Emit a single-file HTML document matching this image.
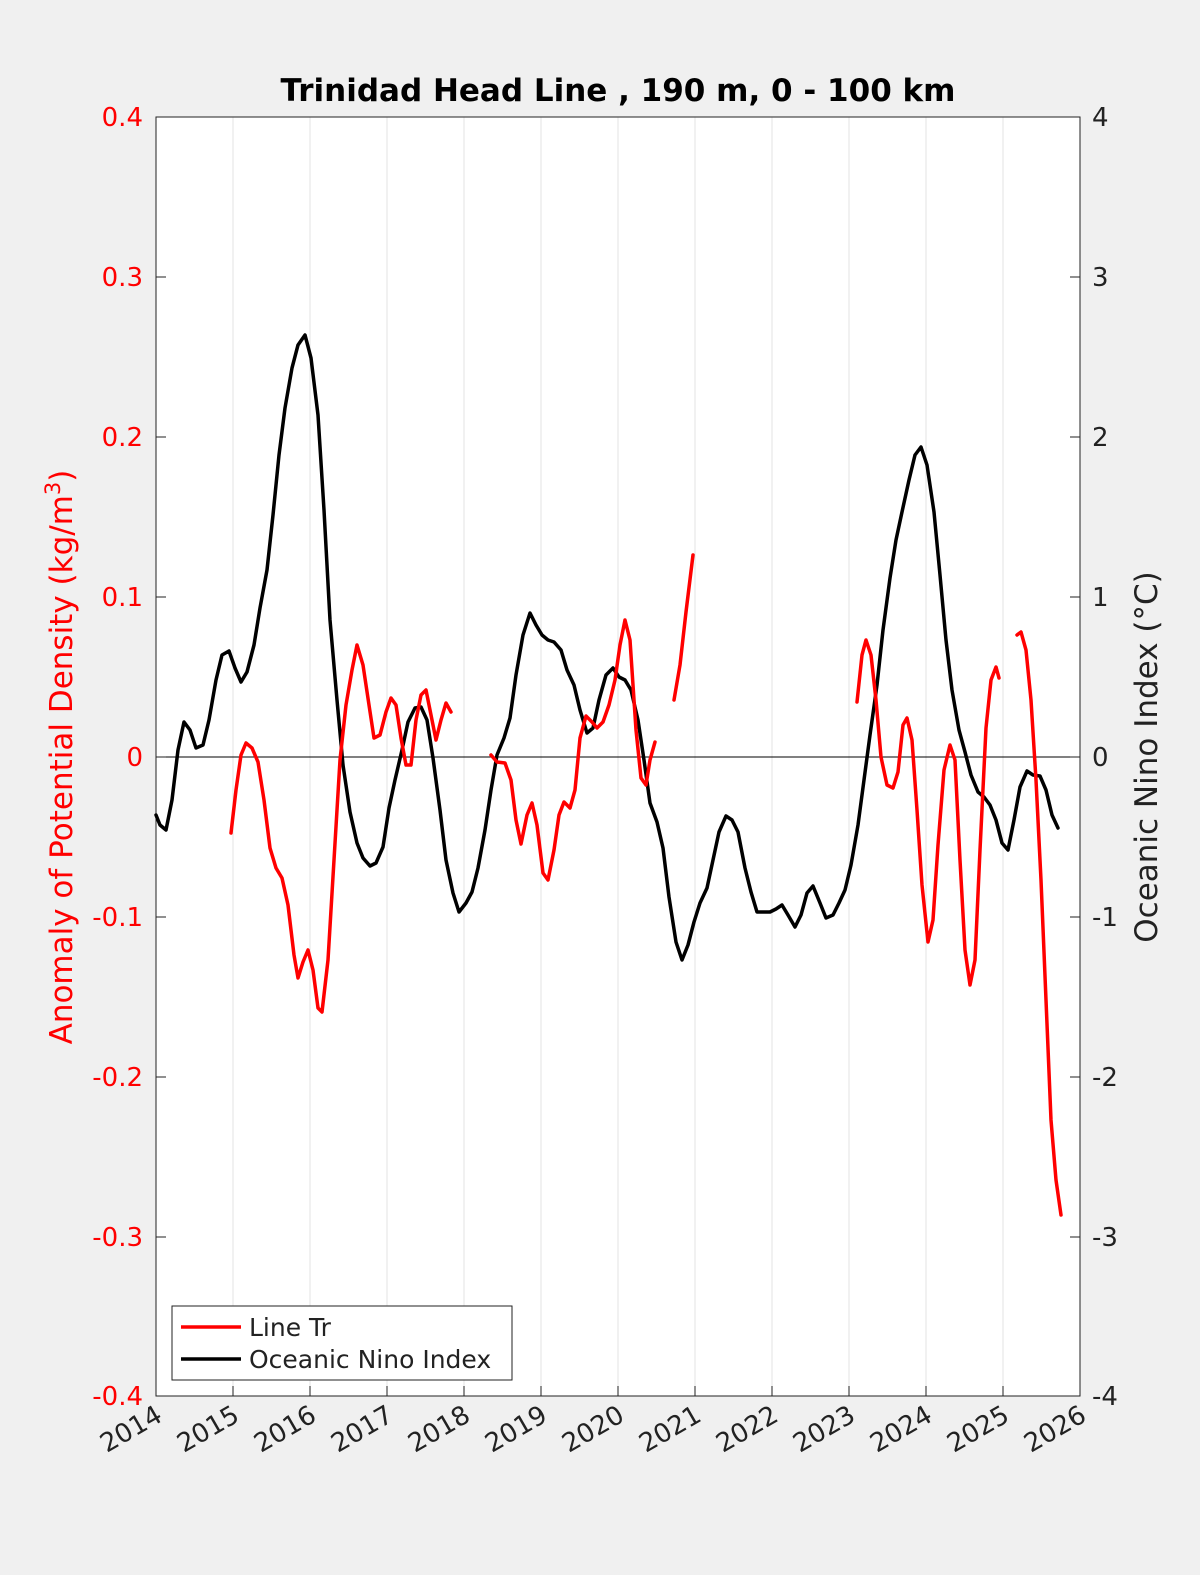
<!DOCTYPE html>
<html><head><meta charset="utf-8"><style>body{margin:0;background:#f0f0f0}svg{display:block}</style></head><body>
<svg width="1200" height="1575" xmlns="http://www.w3.org/2000/svg" font-family="'DejaVu Sans','Liberation Sans',sans-serif">
<rect width="1200" height="1575" fill="#f0f0f0"/>
<rect x="156" y="117" width="924" height="1279" fill="#fff"/>
<g stroke="#e3e3e3" stroke-width="1">
<line x1="233" y1="117" x2="233" y2="1396"/><line x1="310" y1="117" x2="310" y2="1396"/><line x1="387" y1="117" x2="387" y2="1396"/><line x1="464" y1="117" x2="464" y2="1396"/><line x1="541" y1="117" x2="541" y2="1396"/><line x1="618" y1="117" x2="618" y2="1396"/><line x1="695" y1="117" x2="695" y2="1396"/><line x1="772" y1="117" x2="772" y2="1396"/><line x1="849" y1="117" x2="849" y2="1396"/><line x1="926" y1="117" x2="926" y2="1396"/><line x1="1003" y1="117" x2="1003" y2="1396"/>
</g>
<line x1="156" y1="757" x2="1080" y2="757" stroke="#000" stroke-width="1"/>
<g stroke="#222" stroke-width="1">
<path d="M156,117H166M156,277H166M156,437H166M156,597H166M156,757H166M156,917H166M156,1077H166M156,1237H166M156,1396H166"/>
<path d="M1080,117H1070M1080,277H1070M1080,437H1070M1080,597H1070M1080,757H1070M1080,917H1070M1080,1077H1070M1080,1237H1070M1080,1396H1070"/>
<path d="M233,1396V1386M310,1396V1386M387,1396V1386M464,1396V1386M541,1396V1386M618,1396V1386M695,1396V1386M772,1396V1386M849,1396V1386M926,1396V1386M1003,1396V1386"/>
</g>
<rect x="156" y="117" width="924" height="1279" fill="none" stroke="#222" stroke-width="1"/>
<g fill="none" stroke-linejoin="round" stroke-linecap="round" stroke-width="3.5">
<polyline stroke="#000" points="156,815 160,825 166,830 172,800 178,750 184,722 190,730 196,748 203,745 209,720 216,680 222,655 229,651 235,668 241,682 247,672 254,645 260,608 267,570 273,515 279,455 285,408 292,368 298,345 305,335 311,358 318,415 324,510 330,620 337,700 343,765 350,812 357,843 363,858 370,866 376,863 383,847 389,808 395,780 402,750 408,722 415,708 421,707 427,720 433,758 440,810 446,860 453,893 459,912 466,903 472,892 478,868 485,830 491,790 497,755 504,738 510,718 516,675 523,635 530,613 536,625 542,635 548,640 554,642 561,650 567,670 574,685 580,710 587,733 593,728 599,700 606,675 613,668 619,677 625,680 631,690 638,720 644,760 650,803 657,822 663,848 669,897 676,942 682,960 688,945 694,922 700,903 707,888 713,860 719,832 726,816 732,820 738,832 745,868 751,892 757,912 763,912 770,912 776,909 782,905 788,915 795,927 801,915 807,893 813,886 820,903 826,918 833,915 839,903 845,890 851,865 858,825 864,780 870,735 877,685 883,630 890,578 896,540 902,512 909,480 915,455 921,447 927,465 934,512 940,575 946,640 952,690 959,730 965,752 971,775 978,792 984,797 990,805 996,820 1002,843 1008,850 1014,820 1020,787 1027,771 1033,775 1040,776 1046,790 1052,815 1058,828"/>
<g stroke="#f00">
<polyline points="231,833 236,790 241,755 246,743 252,748 258,762 264,800 270,848 276,868 282,878 288,905 294,955 298,978 303,962 308,950 313,970 318,1008 322,1012 328,960 334,860 340,760 346,705 352,670 357,645 363,665 369,705 374,738 380,735 386,712 391,698 396,705 401,738 406,765 411,765 416,720 421,695 426,690 431,715 436,740 441,720 446,703 451,712"/>
<polyline points="491,755 497,762 505,763 511,780 516,820 521,844 527,815 532,803 537,825 543,873 548,880 554,850 559,815 564,802 570,808 575,790 580,738 586,716 592,722 597,728 603,722 609,705 615,680 620,645 625,620 630,640 636,730 641,778 646,785 650,760 655,742"/>
<polyline points="674,700 680,665 686,612 693,555"/>
<polyline points="857,702 862,655 866,640 871,655 876,700 881,757 887,785 893,788 898,772 903,725 907,718 912,740 917,810 922,885 928,942 933,920 938,845 944,770 950,745 955,760 960,860 965,950 970,985 975,960 980,850 986,728 991,680 996,667 999,678"/>
<polyline points="1017,635 1021,632 1026,650 1031,700 1036,780 1041,880 1046,1000 1051,1120 1056,1180 1061,1215"/>
</g></g>
<text x="618" y="101" font-size="31" font-weight="bold" text-anchor="middle">Trinidad Head Line , 190 m, 0 - 100 km</text>
<g font-size="26" fill="#f00" text-anchor="end">
<text x="143" y="126">0.4</text><text x="143" y="286">0.3</text><text x="143" y="446">0.2</text><text x="143" y="606">0.1</text><text x="143" y="766">0</text><text x="143" y="926">-0.1</text><text x="143" y="1086">-0.2</text><text x="143" y="1246">-0.3</text><text x="143" y="1405">-0.4</text>
</g>
<g font-size="26" fill="#222">
<text x="1092" y="126">4</text><text x="1092" y="286">3</text><text x="1092" y="446">2</text><text x="1092" y="606">1</text><text x="1092" y="766">0</text><text x="1092" y="926">-1</text><text x="1092" y="1086">-2</text><text x="1092" y="1246">-3</text><text x="1092" y="1405">-4</text>
</g>
<g font-size="26" fill="#222" text-anchor="end">
<text transform="translate(164,1420) rotate(-30)">2014</text><text transform="translate(241,1420) rotate(-30)">2015</text><text transform="translate(318,1420) rotate(-30)">2016</text><text transform="translate(395,1420) rotate(-30)">2017</text><text transform="translate(472,1420) rotate(-30)">2018</text><text transform="translate(549,1420) rotate(-30)">2019</text><text transform="translate(626,1420) rotate(-30)">2020</text><text transform="translate(703,1420) rotate(-30)">2021</text><text transform="translate(780,1420) rotate(-30)">2022</text><text transform="translate(857,1420) rotate(-30)">2023</text><text transform="translate(934,1420) rotate(-30)">2024</text><text transform="translate(1011,1420) rotate(-30)">2025</text><text transform="translate(1088,1420) rotate(-30)">2026</text>
</g>
<text transform="translate(72,757) rotate(-90)" font-size="31" fill="#f00" text-anchor="middle">Anomaly of Potential Density (kg/m<tspan dy="-12" font-size="21">3</tspan><tspan dy="12">)</tspan></text>
<text transform="translate(1157,757) rotate(-90)" font-size="31" fill="#222" text-anchor="middle">Oceanic Nino Index (°C)</text>
<rect x="172" y="1306" width="340" height="74" fill="#fff" stroke="#222" stroke-width="1"/>
<line x1="181" y1="1327" x2="241" y2="1327" stroke="#f00" stroke-width="3.5"/>
<line x1="181" y1="1359" x2="241" y2="1359" stroke="#000" stroke-width="3.5"/>
<text x="249" y="1336" font-size="25" fill="#222">Line Tr</text>
<text x="249" y="1368" font-size="25" fill="#222">Oceanic Nino Index</text>
</svg>
</body></html>
